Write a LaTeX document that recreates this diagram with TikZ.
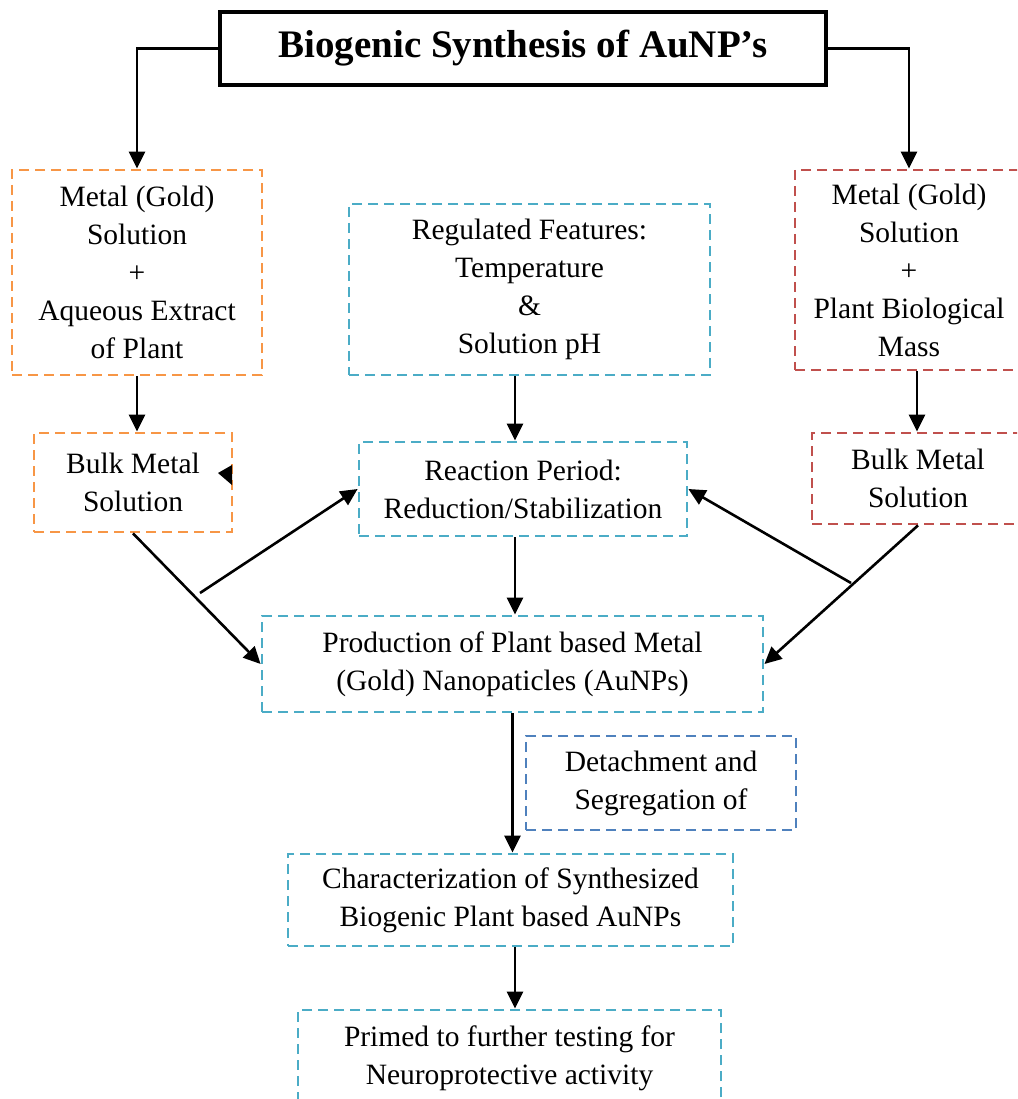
\documentclass[tikz,border=0pt]{standalone}
\usepackage{fontspec}
\setmainfont{Liberation Serif}
\usetikzlibrary{arrows.meta}
\definecolor{orng}{HTML}{F79646}
\definecolor{cyn}{HTML}{4BACC6}
\definecolor{rd}{HTML}{C0504D}
\definecolor{blu}{HTML}{4F81BD}
\begin{document}
\begin{tikzpicture}[x=1pt,y=-1pt,
 box/.style={draw, dash pattern=on 10pt off 6pt, line width=2.8pt, align=center, inner sep=0pt, text=black, font=\fontsize{29.5}{38}\selectfont},
 obox/.style={box, draw=orng},
 cbox/.style={box, draw=cyn},
 rbox/.style={box, draw=rd},
 bbox/.style={box, draw=blu},
 arr/.style={line width=2.6pt, -{Triangle[length=17pt,width=16pt]}},
]
\clip (0,0) rectangle (1017,1099);
\fill[white] (0,0) rectangle (1017,1099);

\node[draw, line width=3.4pt, minimum width=606pt, minimum height=73pt, inner sep=0pt, font=\fontsize{39}{44}\selectfont\bfseries] (title) at (523,48.5) {Biogenic Synthesis of AuNP’s};

\node[obox, minimum width=250pt, minimum height=205pt] (m1) at (137,272.5) {Metal (Gold)\\Solution\\+\\Aqueous Extract\\of Plant};
\node[obox, minimum width=198pt, minimum height=99pt] (b1) at (133,482.5) {Bulk Metal\\Solution};

\node[cbox, minimum width=361pt, minimum height=171pt] (rg) at (529.5,289.5) {Regulated Features:\\Temperature\\\&\\Solution pH};
\node[cbox, minimum width=328pt, minimum height=94pt] (rp) at (523,489) {Reaction Period:\\Reduction/Stabilization};
\node[cbox, minimum width=501pt, minimum height=96pt] (pr) at (512.5,664) {Production of Plant based Metal\\(Gold) Nanopaticles (AuNPs)};

\node[rbox, minimum width=228pt, minimum height=200pt] (r1) at (909,270) {Metal (Gold)\\Solution\\+\\Plant Biological\\Mass};
\node[rbox, minimum width=212pt, minimum height=91pt] (rb2) at (918,478.5) {Bulk Metal\\Solution};

\node[bbox, minimum width=270pt, minimum height=94pt] (dt) at (661,783) {Detachment and\\Segregation of};
\node[cbox, minimum width=445pt, minimum height=92pt] (ch) at (510.5,900) {Characterization of Synthesized\\Biogenic Plant based AuNPs};
\node[cbox, minimum width=423pt, minimum height=96pt] (pm) at (509.5,1058) {Primed to further testing for\\Neuroprotective activity};

\coordinate (c1) at (200,593);
\coordinate (c2) at (851,583);

\draw[arr] (title.west) -| (m1.north);
\draw[arr] (title.east) -| (r1.north);
\draw[arr] (m1.south) -- (m1.south |- b1.north);
\draw[arr] ([xshift=8pt]r1.south) -- ([xshift=8pt]r1.south |- rb2.north);
\draw[arr] ([xshift=-14.5pt]rg.south) -- ([xshift=-14.5pt]rg.south |- rp.north);
\draw[arr] ([xshift=-8pt]rp.south) -- ([xshift=-8pt]rp.south |- pr.north);
\draw[arr] (pr.south) -- (pr.south |- ch.north);
\draw[arr] ([xshift=4.5pt]ch.south) -- ([xshift=4.5pt]ch.south |- pm.north);
\draw[arr] (b1.south) -- (pr.west);
\draw[arr] (c1) -- (rp.west);
\draw[arr] (rb2.south) -- (pr.east);
\draw[arr] (c2) -- (rp.east);
\fill (218,473) -- (232,465) -- (232,485) -- cycle;
\end{tikzpicture}
\end{document}
